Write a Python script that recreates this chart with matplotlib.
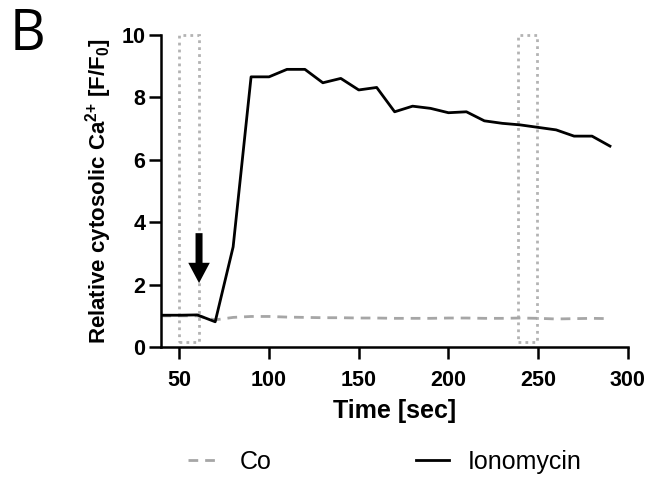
import numpy as np
import matplotlib.pyplot as plt
from matplotlib.patches import Rectangle, FancyArrow

plt.rcParams['font.family'] = ['Liberation Sans', 'DejaVu Sans']
plt.rcParams['mathtext.fontset'] = 'custom'
plt.rcParams['mathtext.rm'] = 'Liberation Sans'
plt.rcParams['mathtext.bf'] = 'Liberation Sans:bold'

# 데이터
time = [40, 50, 60, 70, 80, 90, 100, 110, 120, 130, 140, 150, 160, 170, 180,
        190, 200, 210, 220, 230, 240, 250, 260, 270, 280, 290]
co = [1.0, 1.0, 1.0, 0.87, 0.95, 0.98, 0.98, 0.96, 0.95, 0.94, 0.94, 0.93, 0.93,
      0.92, 0.92, 0.92, 0.93, 0.93, 0.92, 0.92, 0.93, 0.92, 0.90, 0.91, 0.92, 0.91]
iono = [1.02, 1.02, 1.03, 0.81, 3.21, 8.66, 8.66, 8.9, 8.9, 8.47, 8.61, 8.24, 8.32,
        7.54, 7.72, 7.65, 7.51, 7.54, 7.25, 7.17, 7.12, 7.04, 6.96, 6.76, 6.76, 6.44]
windows = [(50, 61), (238.5, 249.5)]

fig = plt.figure(figsize=(6.48, 4.8), dpi=100)
ax = fig.add_axes([0.249, 0.277, 0.72, 0.65])

l1, = ax.plot(time, co, color='#a6a6a6', lw=2, ls=(0, (3.5, 2.5)), label='Co')
l2, = ax.plot(time, iono, color='black', lw=2, label='Ionomycin')

for x0, x1 in windows:
    ax.add_patch(Rectangle((x0, 0.15), x1 - x0, 9.85, fill=False, ec='#b3b3b3',
                           lw=2, ls=(0, (1, 1.5)), clip_on=False))

# 화살표 (자극 시점)
ax.add_patch(FancyArrow(61, 3.65, 0, -1.6, width=3.9, head_width=12,
                        head_length=0.65, length_includes_head=True,
                        color='black', lw=0, zorder=5))

ax.set_xlim(40, 300)
ax.set_ylim(0, 10)
ax.set_xticks(range(50, 301, 50))
ax.set_yticks(range(0, 11, 2))
for s in ['top', 'right']:
    ax.spines[s].set_visible(False)
for s in ['left', 'bottom']:
    ax.spines[s].set_linewidth(1.8)
ax.tick_params(width=1.8, length=8.5, labelsize=15.5, pad=3)
ax.tick_params(axis='x', pad=8)
for lab in ax.get_xticklabels() + ax.get_yticklabels():
    lab.set_fontweight('bold')

ax.set_xlabel('Time [sec]', fontsize=18, fontweight='bold', labelpad=6)
ax.set_ylabel(r'Relative cytosolic Ca$^{\mathbf{2}{\mathbf{+}}}$ [F/F$_\mathbf{0}$]',
              fontsize=16, fontweight='bold', labelpad=5)

fig.text(0.015, 0.985, 'B', fontsize=40, family='Open Sans', va='top', ha='left')

fig.legend(handles=[l1, l2], loc='center', bbox_to_anchor=(0.594, 0.037), ncol=2,
           frameon=False, fontsize=18, handlelength=1.3, columnspacing=5.8,
           handletextpad=0.75)

plt.savefig('out.png', dpi=100)
